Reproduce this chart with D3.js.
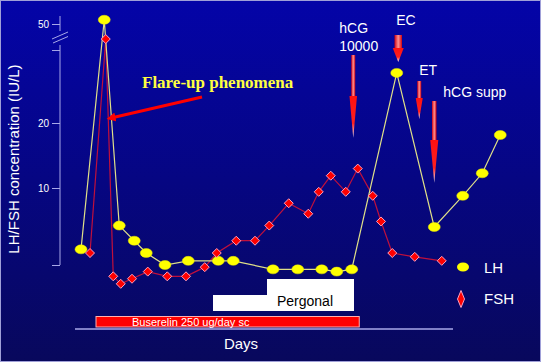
<!DOCTYPE html>
<html>
<head>
<meta charset="utf-8">
<script src="https://cdn.jsdelivr.net/npm/d3@7"></script>
<style>
  body { margin: 0; background: #000060; }
  svg { display: block; font-family: Arial, "Liberation Sans", sans-serif; }
</style>
</head>
<body>
<svg id="chart"></svg>
<script>
var width = 541;
var height = 362;

// days of each sample and the hormone values (IU/L)
var lhDays = [0.8, 3.9, 5.9, 7.9, 9.5, 12, 15.1, 19.1, 21.1, 26.4, 29.7, 32.9, 34.9, 36.9, 42.9, 47.9, 51.7, 54.3, 56.7];
var lhVals = [5.2, 52, 6.7, 5.7, 5.0, 4.4, 4.6, 4.6, 4.6, 4.2, 4.2, 4.2, 4.1, 4.2, 31.8, 6.6, 9.2, 11.7, 17.6];
var fshDays = [2, 4.1, 5.1, 6.1, 7.6, 9.7, 12.3, 14.8, 17.3, 18.9, 21.5, 24, 25.9, 28.5, 31.1, 32.5, 34.1, 36.1, 37.7, 39.7, 40.8, 42.3, 45.3, 48.9];
var fshVals = [5.0, 43.5, 3.9, 3.6, 3.8, 4.1, 3.9, 3.9, 4.3, 5.0, 5.7, 5.7, 6.7, 8.5, 7.6, 9.6, 11.4, 9.6, 12.3, 9.2, 7.0, 5.0, 4.8, 4.6];

// y ticks (blank label = unlabeled tick)
var yTicks = [4.4, 10, 20, 39.3, 50];
var yTickLabels = ["", "10", "20", "", "50"];

// treatment periods (days)
var buserelin = [2.8, 37.9];
var pergonal = [18.4, 25.6, 37.2];

// event arrows: day, label lines
var events = [
  {day: 37.1, label: ["hCG", "10000"]},
  {day: 43.1, label: ["EC"]},
  {day: 45.9, label: ["ET"]},
  {day: 47.9, label: ["hCG supp"]}
];

var x = d3.scaleLinear().domain([0, 50]).range([75, 450]);
// broken axis: log below the break, compressed above it
var y = d3.scaleLog().domain([4.4, 10, 20, 50]).range([265, 188, 123, 24]);

var svg = d3.select("#chart").attr("width", width).attr("height", height);
var defs = svg.append("defs");

var bg = defs.append("linearGradient").attr("id", "bg").attr("x1", 0).attr("y1", 0).attr("x2", 0).attr("y2", 1);
bg.append("stop").attr("offset", "0%").attr("stop-color", "#0404a8");
bg.append("stop").attr("offset", "100%").attr("stop-color", "#08085c");

var shaft = defs.append("linearGradient").attr("id", "shaft").attr("x1", 0).attr("y1", 0).attr("x2", 1).attr("y2", 0);
shaft.append("stop").attr("offset", "0%").attr("stop-color", "#d00010");
shaft.append("stop").attr("offset", "50%").attr("stop-color", "#ff9090");
shaft.append("stop").attr("offset", "100%").attr("stop-color", "#d00010");

var head = defs.append("linearGradient").attr("id", "head").attr("x1", 0).attr("y1", 0).attr("x2", 0).attr("y2", 1);
head.append("stop").attr("offset", "0%").attr("stop-color", "#ff1010");
head.append("stop").attr("offset", "65%").attr("stop-color", "#ff2020");
head.append("stop").attr("offset", "100%").attr("stop-color", "#ffffff");

defs.append("marker").attr("id", "tip")
  .attr("viewBox", "0 0 10 10").attr("refX", 5).attr("refY", 5)
  .attr("markerWidth", 3).attr("markerHeight", 3).attr("orient", "auto")
  .append("path").attr("d", "M0,0L10,5L0,10z").attr("fill", "#ff0000");

svg.append("rect").attr("width", width).attr("height", height).attr("fill", "url(#bg)");
svg.append("rect").attr("x", 0.5).attr("y", 0.5).attr("width", width - 1).attr("height", height - 1)
  .attr("fill", "none").attr("stroke", "#a0a0d8").attr("stroke-width", 1);

// y axis
var axisColor = "#a8a8e8";
var yAxis = d3.axisLeft(y).tickValues(yTicks).tickSize(8).tickSizeOuter(0)
  .tickFormat(function (d, i) { return yTickLabels[i]; });
var gy = svg.append("g").attr("transform", "translate(60,0)").call(yAxis);
gy.select(".domain").remove();
gy.selectAll(".tick line").attr("stroke", axisColor);
gy.selectAll(".tick text").attr("fill", "#ffffff").attr("font-size", 10).attr("x", -11);
gy.append("line").attr("x1", 0).attr("x2", 0).attr("y1", 16).attr("y2", 31).attr("stroke", axisColor);
gy.append("line").attr("x1", 0).attr("x2", 0).attr("y1", 45).attr("y2", 265).attr("stroke", axisColor);
svg.append("line").attr("x1", 52).attr("y1", 39).attr("x2", 68).attr("y2", 32).attr("stroke", axisColor);
svg.append("line").attr("x1", 53).attr("y1", 43).attr("x2", 68).attr("y2", 36.5).attr("stroke", axisColor);

svg.append("text")
  .attr("transform", "translate(19,159) rotate(-90)")
  .attr("text-anchor", "middle")
  .attr("fill", "#ffffff").attr("font-size", 15)
  .text("LH/FSH concentration (IU/L)");

// x axis line and label
svg.append("line").attr("x1", 75).attr("x2", 453).attr("y1", 329).attr("y2", 329).attr("stroke", axisColor).attr("stroke-width", 1.5);
svg.append("text").attr("x", 241).attr("y", 349).attr("text-anchor", "middle")
  .attr("fill", "#ffffff").attr("font-size", 15).text("Days");

// Buserelin bar
svg.append("rect")
  .attr("x", x(buserelin[0])).attr("y", 316.5)
  .attr("width", x(buserelin[1]) - x(buserelin[0])).attr("height", 10.5)
  .attr("fill", "#ff0000").attr("stroke", "#ffb0b0").attr("stroke-width", 1);
svg.append("text").attr("x", 132).attr("y", 325.5)
  .attr("fill", "#ffffff").attr("font-size", 11).text("Buserelin 250 ug/day sc");

// Pergonal box (stepped)
var pg = [
  [x(pergonal[1]), 279], [x(pergonal[2]), 279], [x(pergonal[2]), 311],
  [x(pergonal[0]), 311], [x(pergonal[0]), 295], [x(pergonal[1]), 295]
];
svg.append("path").attr("d", d3.line()(pg) + "Z").attr("fill", "#ffffff");
svg.append("text").attr("x", 305).attr("y", 306).attr("text-anchor", "middle")
  .attr("fill", "#000000").attr("font-size", 14).text("Pergonal");

// series lines
var lhData = lhDays.map(function (d, i) { return [d, lhVals[i]]; });
var fshData = fshDays.map(function (d, i) { return [d, fshVals[i]]; });
var line = d3.line().x(function (d) { return x(d[0]); }).y(function (d) { return y(d[1]); });

svg.append("path").attr("d", line(fshData)).attr("fill", "none").attr("stroke", "#c0103c").attr("stroke-width", 1.2);
svg.append("path").attr("d", line(lhData)).attr("fill", "none").attr("stroke", "#e0e088").attr("stroke-width", 1.2);

svg.selectAll(".lh").data(lhData).enter().append("ellipse")
  .attr("class", "lh")
  .attr("cx", function (d) { return x(d[0]); })
  .attr("cy", function (d) { return y(d[1]); })
  .attr("rx", 6).attr("ry", 4.5)
  .attr("fill", "#ffff00").attr("stroke", "#e8e800").attr("stroke-width", 0.5);

var diamond = function (cx, cy, w, h) {
  return "M" + cx + "," + (cy - h) + "L" + (cx + w) + "," + cy + "L" + cx + "," + (cy + h) + "L" + (cx - w) + "," + cy + "Z";
};
svg.selectAll(".fsh").data(fshData).enter().append("path")
  .attr("class", "fsh")
  .attr("d", function (d) { return diamond(x(d[0]), y(d[1]), 4.5, 4.5); })
  .attr("fill", "#ff0000").attr("stroke", "#ffa0c0").attr("stroke-width", 1);

// event arrows
var arrowDims = [
  {top: 55, headTop: 96, tip: 138, sw: 4, hw: 7.5},
  {top: 35, headTop: 48, tip: 62, sw: 7.5, hw: 11},
  {top: 81, headTop: 98, tip: 119, sw: 4, hw: 7},
  {top: 101, headTop: 140, tip: 183, sw: 4.5, hw: 8}
];
var labelPos = [
  {dx: -14, y: [33, 51]},
  {dx: -2, y: [25]},
  {dx: 0, y: [75]},
  {dx: 9, y: [97]}
];
events.forEach(function (e, i) {
  var cx = x(e.day), a = arrowDims[i];
  svg.append("rect").attr("x", cx - a.sw / 2).attr("y", a.top)
    .attr("width", a.sw).attr("height", a.headTop - a.top + 1).attr("fill", "url(#shaft)");
  svg.append("path")
    .attr("d", "M" + (cx - a.hw / 2) + "," + a.headTop + "L" + (cx + a.hw / 2) + "," + a.headTop + "L" + cx + "," + a.tip + "Z")
    .attr("fill", "url(#head)");
  e.label.forEach(function (t, j) {
    svg.append("text").attr("x", cx + labelPos[i].dx).attr("y", labelPos[i].y[j])
      .attr("fill", "#ffffff").attr("font-size", 14).text(t);
  });
});

// flare-up annotation
svg.append("text").attr("x", 142).attr("y", 88)
  .attr("font-family", "'Liberation Serif', 'Times New Roman', serif")
  .attr("font-weight", "bold").attr("font-size", 17).attr("fill", "#ffff40")
  .text("Flare-up phenomena");
svg.append("line").attr("x1", 202).attr("y1", 97).attr("x2", 111).attr("y2", 118)
  .attr("stroke", "#ff0000").attr("stroke-width", 3).attr("marker-end", "url(#tip)");

// legend
svg.append("ellipse").attr("cx", 463).attr("cy", 267).attr("rx", 6).attr("ry", 4.5).attr("fill", "#ffff00");
svg.append("text").attr("x", 484).attr("y", 273).attr("fill", "#ffffff").attr("font-size", 15).text("LH");
svg.append("path").attr("d", diamond(461, 299, 3.5, 8.5)).attr("fill", "#ff0000").attr("stroke", "#ffa0c0");
svg.append("text").attr("x", 484).attr("y", 304).attr("fill", "#ffffff").attr("font-size", 15).text("FSH");
</script>
</body>
</html>
